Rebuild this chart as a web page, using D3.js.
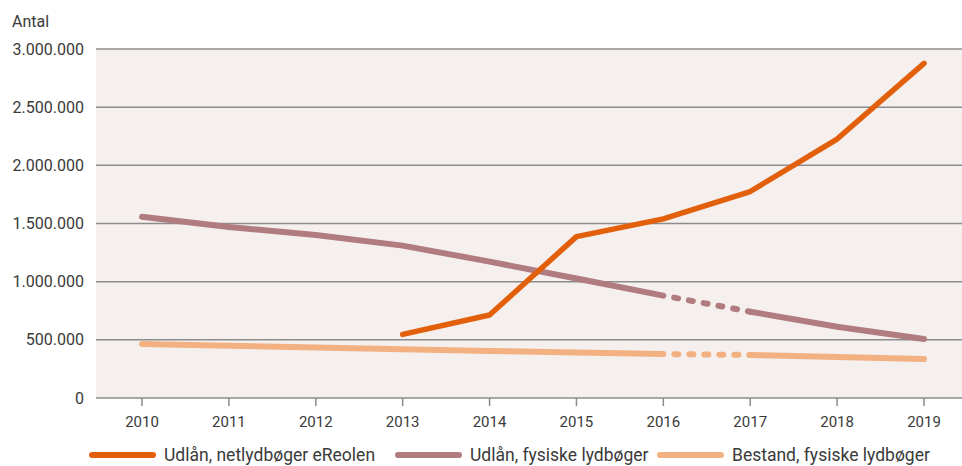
<!DOCTYPE html>
<html>
<head>
<meta charset="utf-8">
<script src="https://cdn.jsdelivr.net/npm/d3@7"></script>
<style>
  html, body { margin: 0; padding: 0; background: #ffffff; }
  svg { display: block; }
  text { font-family: Roboto, "Noto Sans", sans-serif; fill: #3a3a3a; }
</style>
</head>
<body>
<svg id="chart" width="962" height="466"></svg>
<script>
const years = [2010, 2011, 2012, 2013, 2014, 2015, 2016, 2017, 2018, 2019];
const eReolen = [null, null, null, 547000, 713000, 1387000, 1540000, 1775000, 2226000, 2877000];
const fysiskeUdlaan = [1558000, 1470000, 1401000, 1310000, 1172000, 1027000, 880000, 742000, 613000, 507000];
const bestand = [464000, 450000, 435000, 420000, 405000, 392000, 378000, 370000, 352000, 335000];
const yTicks = [0, 500000, 1000000, 1500000, 2000000, 2500000, 3000000];
const seriesNames = ["Udlån, netlydbøger eReolen", "Udlån, fysiske lydbøger", "Bestand, fysiske lydbøger"];
const seriesColors = ["#e2600b", "#b07c80", "#f3b182"];

const svg = d3.select("#chart");
const plotLeft = 96, plotRight = 962, plotTop = 49, plotBottom = 398;

const x = d3.scalePoint().domain(years).range([142, 924]);
const y = d3.scaleLinear().domain([0, 3000000]).range([plotBottom, plotTop]);

// plot background
svg.append("rect")
  .attr("x", plotLeft).attr("y", plotTop)
  .attr("width", plotRight - plotLeft).attr("height", plotBottom - plotTop)
  .attr("fill", "#f5f0ee");

// gridlines
svg.append("g").selectAll("line").data(yTicks).join("line")
  .attr("x1", plotLeft).attr("x2", plotRight)
  .attr("y1", d => y(d)).attr("y2", d => y(d))
  .attr("stroke", "#8c8c8c").attr("stroke-width", 1.5);

// y labels
const fmt = d => d === 0 ? "0" : d3.format(",")(d).replace(/,/g, ".");
svg.append("g").selectAll("text").data(yTicks).join("text")
  .attr("x", 84).attr("y", d => y(d) + 5.5)
  .attr("text-anchor", "end")
  .attr("font-size", 16)
  .text(fmt);

svg.append("text").attr("x", 12).attr("y", 27).attr("font-size", 16).text("Antal");

// x axis ticks & labels
svg.append("g").selectAll("line").data(years).join("line")
  .attr("x1", d => x(d)).attr("x2", d => x(d))
  .attr("y1", plotBottom).attr("y2", plotBottom + 8)
  .attr("stroke", "#8c8c8c").attr("stroke-width", 1.5);
svg.append("g").selectAll("text").data(years).join("text")
  .attr("x", d => x(d)).attr("y", 427)
  .attr("text-anchor", "middle")
  .attr("font-size", 15)
  .text(d => d);

// lines
const pts = arr => years.map((yr, i) => ({yr, v: arr[i]})).filter(p => p.v != null);
const line = d3.line().x(p => x(p.yr)).y(p => y(p.v));

function drawSeries(arr, color, width, dashIdx) {
  const all = pts(arr);
  let segs;
  if (dashIdx == null) {
    segs = [{d: all, dash: null}];
  } else {
    const i16 = all.findIndex(p => p.yr === years[dashIdx]);
    segs = [
      {d: all.slice(0, i16 + 1), dash: null},
      {d: all.slice(i16, i16 + 2), dash: "4 11"},
      {d: all.slice(i16 + 1), dash: null}
    ];
  }
  segs.forEach(s => {
    const p = svg.append("path")
      .attr("d", line(s.d))
      .attr("fill", "none")
      .attr("stroke", color)
      .attr("stroke-width", width)
      .attr("stroke-linecap", "round")
      .attr("stroke-linejoin", "round");
    if (s.dash) p.attr("stroke-dasharray", s.dash).attr("stroke-dashoffset", 4);
  });
}

drawSeries(bestand, seriesColors[2], 6, 6);
drawSeries(fysiskeUdlaan, seriesColors[1], 6, 6);
drawSeries(eReolen, seriesColors[0], 5.5, null);

// legend
const legendX = [92, 398, 660];
const legend = svg.append("g");
seriesNames.forEach((name, i) => {
  legend.append("line")
    .attr("x1", legendX[i]).attr("x2", legendX[i] + 61)
    .attr("y1", 455).attr("y2", 455)
    .attr("stroke", seriesColors[i]).attr("stroke-width", 6)
    .attr("stroke-linecap", "round");
  legend.append("text")
    .attr("x", legendX[i] + 72).attr("y", 461)
    .attr("font-size", 17.5)
    .text(name);
});
</script>
</body>
</html>
